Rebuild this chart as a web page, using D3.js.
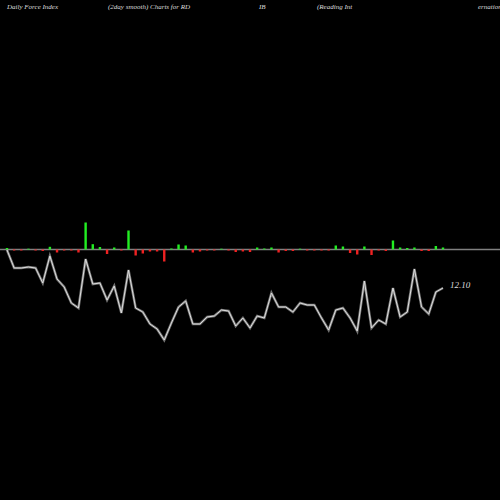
<!DOCTYPE html>
<html><head><meta charset="utf-8">
<script src="https://cdn.jsdelivr.net/npm/d3@7"></script>
<style>body{margin:0;background:#000}</style></head>
<body><svg id="c" width="500" height="500"></svg>
<script>
const forceBars = [1.5,-1,-1,0.8,-1,-1.5,2.7,-3,-1,-1,-3,27,5.3,2.5,-4.5,2,-1,19,-6,-4,-2,-2,-12,1,5,4,-3,-2,-1,-1,0.8,-1,-2.5,-2,
 -2.5,2,1,2,-3,-1.5,-1.5,0.8,-1,-1,-1,-1,4,3,-3.5,-5,3,-5.5,-1,-1.5,9,2,1.5,2,-1.5,-1.5,3.5,2];
const smoothLine = [250,268,268,267,268,283,256,279,287,303,308,259,284,283,300,286,313,270,308,312,324,329,340,323,307,301,324,324,317,316,310,311,326,318,
 328,316,318,293,307,307,312,303,305,305,318,330,310,308,318,331,281,328,320,324,288,317,312,269,307,314,292,288];
const lastLabel = "12.10";
const titles = [["Daily Force  Index",7],["(2day smooth) Charts for RD",108],["IB",259],["(Reading Int",317],["ernational",478]];

const svg = d3.select("#c");
const x = d3.scaleLinear().domain([0, forceBars.length-1]).range([7, 443]);
const yb = d3.scaleLinear().domain([0, 27]).range([249.5, 222.5]);
const yl = d3.scaleLinear().domain([250, 340]).range([250, 340]);

svg.selectAll("text.t").data(titles).join("text")
  .attr("x", d=>d[1]).attr("y", 9).attr("fill", "#ddd")
  .attr("font-family", "Liberation Serif, serif").attr("font-style", "italic").attr("font-size", 7)
  .text(d=>d[0]);

svg.append("line").attr("x1",0).attr("x2",500).attr("y1",yb(0)).attr("y2",yb(0))
  .attr("stroke","#808080").attr("stroke-width",1.5);

svg.selectAll("rect.b").data(forceBars).join("rect")
  .attr("x",(d,i)=>x(i)-1.2).attr("width",2.4)
  .attr("y",d=>d>0?yb(d):yb(0)).attr("height",d=>Math.max(0.8,Math.abs(yb(d)-yb(0))))
  .attr("fill",d=>d>0?"#22ee22":"#ee2222");

svg.append("path").datum(smoothLine)
  .attr("d", d3.line().x((d,i)=>x(i)).y(d=>yl(d)))
  .attr("fill","none").attr("stroke","#fff").attr("stroke-width",2.5).attr("opacity",0.45);
svg.append("path").datum(smoothLine)
  .attr("d", d3.line().x((d,i)=>x(i)).y(d=>yl(d)))
  .attr("fill","none").attr("stroke","#ddd").attr("stroke-width",1);

svg.append("text").attr("x",450).attr("y",288).attr("fill","#ddd")
  .attr("font-family","Liberation Serif, serif").attr("font-style","italic").attr("font-size",9)
  .text(lastLabel);
</script></body></html>
